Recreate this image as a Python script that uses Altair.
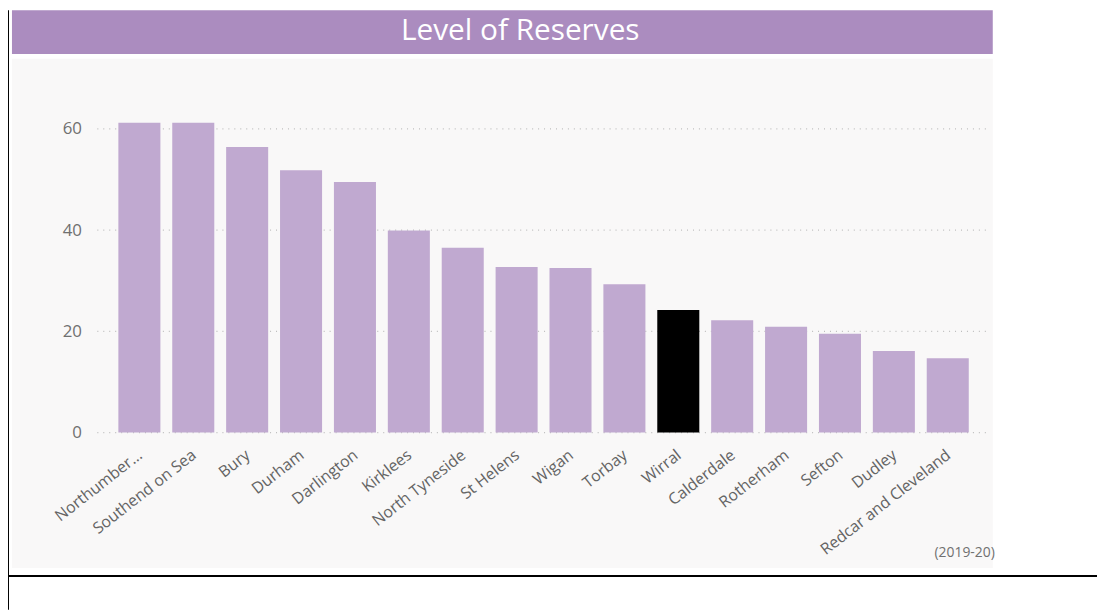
import altair as alt
import pandas as pd

# ---- data ----
councils = [
    "Northumberland", "Southend on Sea", "Bury", "Durham", "Darlington",
    "Kirklees", "North Tyneside", "St Helens", "Wigan", "Torbay", "Wirral",
    "Calderdale", "Rotherham", "Sefton", "Dudley", "Redcar and Cleveland",
]
reserves = [61.2, 61.2, 56.4, 51.8, 49.5, 39.9, 36.5, 32.7, 32.5, 29.3,
            24.2, 22.2, 20.9, 19.5, 16.1, 14.7]
highlight = "Wirral"
y_ticks = [0, 20, 40, 60]
chart_title = "Level of Reserves"
footnote = "(2019-20)"

df = pd.DataFrame({"council": councils, "reserves": reserves})
df["hl"] = df["council"] == highlight
grid_df = pd.DataFrame({"reserves": y_ticks})

PURPLE_BAR = "#C0A9D0"
PURPLE_HEAD = "#AB8CBF"
PANEL_BG = "#F9F8F8"
FONT = "Open Sans"

W, H = 899, 331.5
PL, PT = 90, 94
PR, PB = 1097 - PL - W, 604 - PT - H

y_scale = alt.Scale(domain=[0, 65], nice=False)

x_enc = alt.X(
    "council:N", sort=councils, title=None,
    scale=alt.Scale(paddingInner=0.22, paddingOuter=0.39),
    axis=alt.Axis(
        labelAngle=-38, labelFont=FONT, labelFontSize=16, labelColor="#646464",
        ticks=False, domain=False, grid=False, labelPadding=14, labelOffset=-4,
        labelLimit=300, zindex=1,
        labelExpr="datum.label == 'Northumberland' ? 'Northumber...' : datum.label",
    ),
)
y_enc = alt.Y(
    "reserves:Q", title=None, scale=y_scale,
    axis=alt.Axis(
        values=y_ticks, labelFont=FONT, labelFontSize=17, labelColor="#707070",
        ticks=False, domain=False, grid=False, labelPadding=16, zindex=1,
    ),
)

one = pd.DataFrame({"k": [0]})

panel = alt.Chart(one).mark_rect(color=PANEL_BG).encode(
    x=alt.value(4 - PL), x2=alt.value(992 - PL),
    y=alt.value(49 - PT), y2=alt.value(562 - PT),
)
header = alt.Chart(one).mark_rect(color=PURPLE_HEAD).encode(
    x=alt.value(4 - PL), x2=alt.value(992 - PL),
    y=alt.value(0 - PT), y2=alt.value(44 - PT),
)
title_txt = alt.Chart(one).mark_text(
    text=chart_title, font=FONT, fontSize=30, color="white", align="center",
    baseline="middle",
).encode(x=alt.value(516 - PL), y=alt.value(21 - PT))
foot_txt = alt.Chart(one).mark_text(
    text=footnote, font=FONT, fontSize=14, color="#707070", align="right",
    baseline="middle",
).encode(x=alt.value(994 - PL), y=alt.value(547 - PT))
left_border = alt.Chart(one).mark_rule(color="black", strokeWidth=2).encode(
    x=alt.value(0 - PL), y=alt.value(0 - PT), y2=alt.value(604 - PT),
)
bottom_border = alt.Chart(one).mark_rule(color="black", strokeWidth=2).encode(
    x=alt.value(0 - PL), x2=alt.value(1097 - PL), y=alt.value(570 - PT),
)

grid = alt.Chart(grid_df).mark_rule(
    color="#BEBEBE", strokeDash=[1, 5], strokeWidth=1.2
).encode(
    y=alt.Y("reserves:Q", scale=y_scale), x=alt.value(0), x2=alt.value(W),
)

bars = alt.Chart(df).mark_bar().encode(
    x=x_enc, y=y_enc,
    color=alt.condition("datum.hl", alt.value("black"), alt.value(PURPLE_BAR)),
)

chart = alt.layer(
    panel, header, title_txt, foot_txt, left_border, bottom_border, grid, bars
).properties(
    width=W, height=H,
    padding={"left": PL, "top": PT, "right": PR, "bottom": PB},
    autosize=alt.AutoSizeParams(type="none"),
    background="white",
).configure_view(stroke=None)

chart.save("out.html", embed_options={"renderer": "svg", "actions": False})
